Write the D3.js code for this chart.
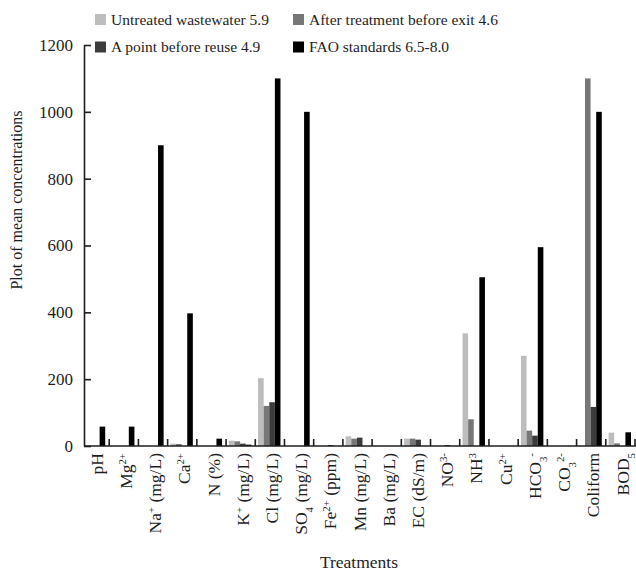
<!DOCTYPE html>
<html>
<head>
<meta charset="utf-8">
<script src="https://cdn.jsdelivr.net/npm/d3@7"></script>
<style>
  body { margin: 0; background: #fff; }
  svg { display: block; }
  svg text { font-family: "Liberation Serif", "Times New Roman", serif; }
</style>
</head>
<body>
<svg id="chart" width="636" height="572"></svg>
<script>
// categories, markup: ^{..} superscript, _{..} subscript
const categories = ["pH", "Mg^{2+}", "Na^{+} (mg/L)", "Ca^{2+}", "N (%)", "K^{+} (mg/L)", "Cl (mg/L)",
  "SO_{4} (mg/L)", "Fe^{2+} (ppm)", "Mn (mg/L)", "Ba (mg/L)", "EC (dS/m)", "NO^{3-}", "NH^{3}",
  "Cu^{2+}", "HCO_{3}^{-}", "CO_{3}^{2-}", "Coliform", "BOD_{5}"];

const seriesNames = ["Untreated wastewater 5.9", "After treatment before exit 4.6",
  "A point before reuse 4.9", "FAO standards 6.5-8.0"];
const seriesColors = ["#bdbdbd", "#777777", "#3c3c3c", "#000000"];

const untreated = [0, 0, 0, 7, 0, 16, 203, 0, 0, 29, 0, 22, 0, 337, 0, 270, 0, 0, 40];
const afterTreatment = [0, 0, 0, 6, 0, 14, 120, 0, 0, 22, 0, 22, 0, 80, 0, 46, 0, 1100, 8];
const pointBeforeReuse = [0, 0, 0, 0, 0, 7, 131, 0, 3, 25, 0, 19, 3, 0, 0, 31, 0, 117, 0];
const faoStandards = [58, 58, 900, 397, 22, 4, 1100, 1000, 0, 0, 0, 0, 0, 505, 0, 595, 0, 1000, 41];

const yTicks = [0, 200, 400, 600, 800, 1000, 1200];

const series = [untreated, afterTreatment, pointBeforeReuse, faoStandards];

const svg = d3.select("#chart");
const axisLeftX = 84, baseY = 446, topY = 45;
const ink = "#1e1e1e";

const x = d3.scaleBand().domain(categories).range([80, 635]).padding(0);
const bw = x.bandwidth();
const x1 = d3.scaleBand().domain(d3.range(4)).range([bw * 0.096, bw * 0.863]).padding(0);
const y = d3.scaleLinear().domain([0, 1200]).range([baseY, topY]);

// x ticks on category boundaries (drawn first, bars cover them)
const bounds = categories.slice(1).map(c => x(c)).concat([x.range()[1]]);
svg.append("g").selectAll("line")
  .data(bounds)
  .enter().append("line")
  .attr("x1", d => d).attr("x2", d => d)
  .attr("y1", baseY).attr("y2", baseY - 7)
  .attr("stroke", ink).attr("stroke-width", 1.6);

// bars
const groups = svg.append("g").selectAll("g")
  .data(categories)
  .enter().append("g")
  .attr("transform", d => `translate(${x(d)},0)`);

groups.selectAll("rect")
  .data((d, i) => series.map((s, k) => ({k: k, v: s[i]})).filter(e => e.v > 0))
  .enter().append("rect")
  .attr("x", d => x1(d.k))
  .attr("width", x1.bandwidth())
  .attr("y", d => y(d.v))
  .attr("height", d => baseY - y(d.v))
  .attr("fill", d => seriesColors[d.k]);

// y axis
const yAxis = d3.axisLeft(y).tickValues(yTicks).tickFormat(d3.format("d"))
  .tickSize(-7).tickSizeOuter(0).tickPadding(11);
const gy = svg.append("g")
  .attr("transform", `translate(${axisLeftX},0)`)
  .call(yAxis);
gy.attr("font-family", null);
gy.select(".domain").attr("stroke", ink).attr("stroke-width", 1.6);
gy.selectAll(".tick line").attr("stroke", ink).attr("stroke-width", 1.6);
gy.selectAll(".tick text")
  .attr("font-size", 17).attr("fill", ink);

// x axis line
svg.append("line")
  .attr("x1", axisLeftX).attr("x2", 636)
  .attr("y1", baseY).attr("y2", baseY)
  .attr("stroke", ink).attr("stroke-width", 1.6);

// category labels with sub/superscripts
function addRich(text, str) {
  const re = /(\^\{[^}]*\}|_\{[^}]*\}|[^\^_]+)/g;
  let m;
  while ((m = re.exec(str)) !== null) {
    const part = m[0];
    if (part[0] === "^") {
      text.append("tspan").attr("baseline-shift", "super").attr("font-size", "0.62em").text(part.slice(2, -1));
    } else if (part[0] === "_") {
      text.append("tspan").attr("baseline-shift", "sub").attr("font-size", "0.62em").text(part.slice(2, -1));
    } else {
      text.append("tspan").text(part);
    }
  }
}

const labels = svg.append("g").selectAll("text")
  .data(categories)
  .enter().append("text")
  .attr("transform", d => `translate(${x(d) + bw / 2 + 2},453) rotate(-90)`)
  .attr("text-anchor", "end")
  .attr("dy", "0.35em")
  .attr("font-size", 17.5)
  .attr("fill", ink);
labels.each(function(d) { addRich(d3.select(this), d); });

// axis titles
svg.append("text")
  .attr("x", 359).attr("y", 568)
  .attr("text-anchor", "middle")
  .attr("font-size", 17.5).attr("fill", ink)
  .text("Treatments");

svg.append("text")
  .attr("transform", "translate(22,200) rotate(-90)")
  .attr("text-anchor", "middle")
  .attr("font-size", 16).attr("fill", ink)
  .text("Plot of mean concentrations");

// legend
const legendPos = [[95, 14], [293, 14], [95, 41.5], [293, 41.5]];
const legend = svg.append("g").selectAll("g")
  .data(seriesNames)
  .enter().append("g")
  .attr("transform", (d, i) => `translate(${legendPos[i][0]},${legendPos[i][1]})`);
legend.append("rect")
  .attr("width", 11).attr("height", 11)
  .attr("fill", (d, i) => seriesColors[i]);
legend.append("text")
  .attr("x", 16).attr("y", 5.5).attr("dy", "0.35em")
  .attr("font-size", 15.5).attr("fill", ink)
  .text(d => d);
</script>
</body>
</html>
